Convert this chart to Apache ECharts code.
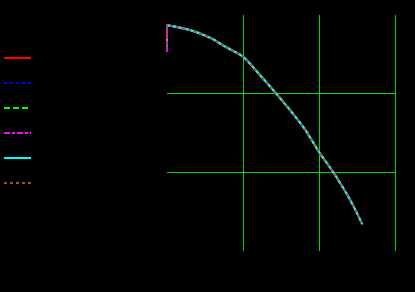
<!DOCTYPE html>
<html>
<head>
<meta charset="utf-8">
<script src="https://cdn.jsdelivr.net/npm/echarts@6/dist/echarts.min.js"></script>
<style>
html,body{margin:0;padding:0;background:#000;}
#chart{width:415px;height:292px;}
</style>
</head>
<body>
<div id="chart"></div>
<script>
var seriesNames = ['Series 1', 'Series 2', 'Series 3', 'Series 4', 'Series 5', 'Series 6'];
var seriesColors = ['#ff0000', '#0000ff', '#00ff00', '#ff00ff', '#00ffff', '#a0522d'];
var seriesDash = ['solid', [3, 3], [6, 3], [6, 2, 3, 2], 'solid', [3, 3]];
var seriesWidth = [2, 2, 2, 2, 2, 2];
var startValues = [2.87, 2.64, 2.55, 2.53, 2.87, 2.76];
var xValues = [0, 0.30, 0.57, 0.76, 1.0, 1.22, 1.42, 1.62, 1.82, 2.0, 2.21, 2.41, 2.57];
var yValues = [2.87, 2.81, 2.71, 2.60, 2.47, 2.24, 2.02, 1.79, 1.54, 1.26, 0.97, 0.65, 0.34];

var chart = echarts.init(document.getElementById('chart'));
var series = seriesNames.map(function (name, i) {
  var data = [[0, startValues[i]]];
  for (var k = 0; k < xValues.length; k++) data.push([xValues[k], yValues[k]]);
  return {
    name: name,
    type: 'line',
    data: data,
    symbol: 'none',
    legendIcon: 'none',
    smooth: 0.3,
    color: seriesColors[i],
    lineStyle: { color: seriesColors[i], width: seriesWidth[i], type: seriesDash[i] },
    animation: false
  };
});

chart.setOption({
  backgroundColor: '#000000',
  animation: false,
  legend: {
    orient: 'vertical',
    left: 3,
    top: 51,
    padding: 0,
    itemWidth: 27,
    itemHeight: 14,
    itemGap: 11,
    itemStyle: { opacity: 0 },
    textStyle: { color: '#000000', fontSize: 10, lineHeight: 14 },
    data: seriesNames
  },
  grid: { left: 167, right: 20, top: 15, bottom: 41 },
  xAxis: {
    type: 'value',
    min: 0, max: 3, interval: 1,
    axisLine: { show: false },
    axisTick: { show: false },
    axisLabel: { show: false },
    splitLine: { show: true, showMinLine: false, showMaxLine: true, lineStyle: { color: '#00dd00', width: 1 } }
  },
  yAxis: {
    type: 'value',
    min: 0, max: 3, interval: 1,
    axisLine: { show: false },
    axisTick: { show: false },
    axisLabel: { show: false },
    splitLine: { show: true, showMinLine: false, showMaxLine: false, lineStyle: { color: '#00dd00', width: 1 } }
  },
  series: series
});
</script>
</body>
</html>
